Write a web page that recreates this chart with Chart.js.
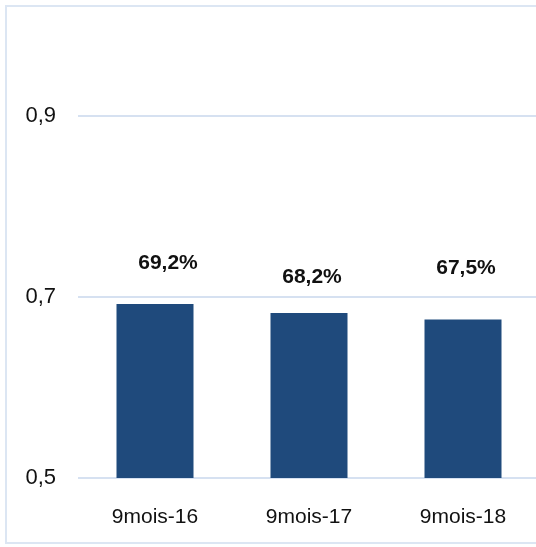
<!DOCTYPE html>
<html>
<head>
<meta charset="utf-8">
<script src="https://cdn.jsdelivr.net/npm/chart.js@4/dist/chart.umd.min.js"></script>
<style>
  html, body { margin: 0; padding: 0; background: #fff; overflow: hidden; }
  #wrap { position: relative; width: 536px; height: 547px; overflow: hidden; }
  #frame {
    position: absolute; left: 5px; top: 5px; width: 545px; height: 539px;
    border: 2px solid #dce6f3; box-sizing: border-box; pointer-events: none;
  }
  #box { position: absolute; left: 0; top: 0; width: 545px; height: 547px; }
</style>
</head>
<body>
<div id="wrap">
  <div id="box"><canvas id="ratioChart"></canvas></div>
  <div id="frame"></div>
</div>
<script>
// Data
const periods = ['9mois-16', '9mois-17', '9mois-18'];
const ratios = [0.692, 0.682, 0.675];
const ratioLabels = ['69,2%', '68,2%', '67,5%'];
const yTicks = [0.5, 0.7, 0.9];

// Bold value labels above each bar
const valueLabels = {
    id: 'valueLabels',
    afterDatasetsDraw(chart, args, opts) {
        const ctx = chart.ctx;
        const meta = chart.getDatasetMeta(0);
        ctx.save();
        ctx.font = 'bold 21px "Liberation Sans", Arial, sans-serif';
        ctx.fillStyle = '#111';
        ctx.textAlign = 'center';
        ctx.textBaseline = 'middle';
        meta.data.forEach((bar, i) => {
            const dx = opts.dx[i] || 0;
            const dy = opts.dy[i] || 40;
            ctx.fillText(ratioLabels[i], bar.x + dx, bar.y - dy);
        });
        ctx.restore();
    }
};

function initChart() {
    const ctx = document.getElementById('ratioChart').getContext('2d');
    return new Chart(ctx, {
        type: 'bar',
        data: {
            labels: periods,
            datasets: [{
                data: ratios,
                backgroundColor: '#1f4a7c',
                borderWidth: 0,
                barPercentage: 1,
                categoryPercentage: 0.5
            }]
        },
        options: {
            responsive: false,
            animation: false,
            devicePixelRatio: 1,
            layout: { padding: { left: 0, right: 5, top: 25, bottom: 0 } },
            plugins: {
                legend: { display: false },
                tooltip: { enabled: false },
                valueLabels: { dx: [13, 3, 3], dy: [41, 36, 51] }
            },
            scales: {
                x: {
                    grid: { display: false },
                    border: { display: false },
                    ticks: {
                        color: '#111',
                        padding: 19,
                        font: { family: '"Liberation Sans", Arial, sans-serif', size: 21 }
                    },
                    afterFit(scale) { scale.height = 69; }
                },
                y: {
                    min: 0.5,
                    max: 1.0,
                    border: { display: false },
                    grid: { color: '#d6e1f1', lineWidth: 2, drawTicks: false },
                    ticks: {
                        color: '#111',
                        padding: 22,
                        font: { family: '"Liberation Sans", Arial, sans-serif', size: 22 },
                        callback: v => v.toFixed(1).replace('.', ',')
                    },
                    afterBuildTicks(scale) {
                        scale.ticks = yTicks.map(v => ({ value: v }));
                    },
                    afterFit(scale) {
                        // fixed axis width, no extra label padding at top/bottom
                        scale.width = 78;
                        scale.paddingTop = 0;
                        scale.paddingBottom = 0;
                    }
                }
            }
        },
        plugins: [valueLabels]
    });
}

const cv = document.getElementById('ratioChart');
cv.width = 545;
cv.height = 547;
initChart();
</script>
</body>
</html>
